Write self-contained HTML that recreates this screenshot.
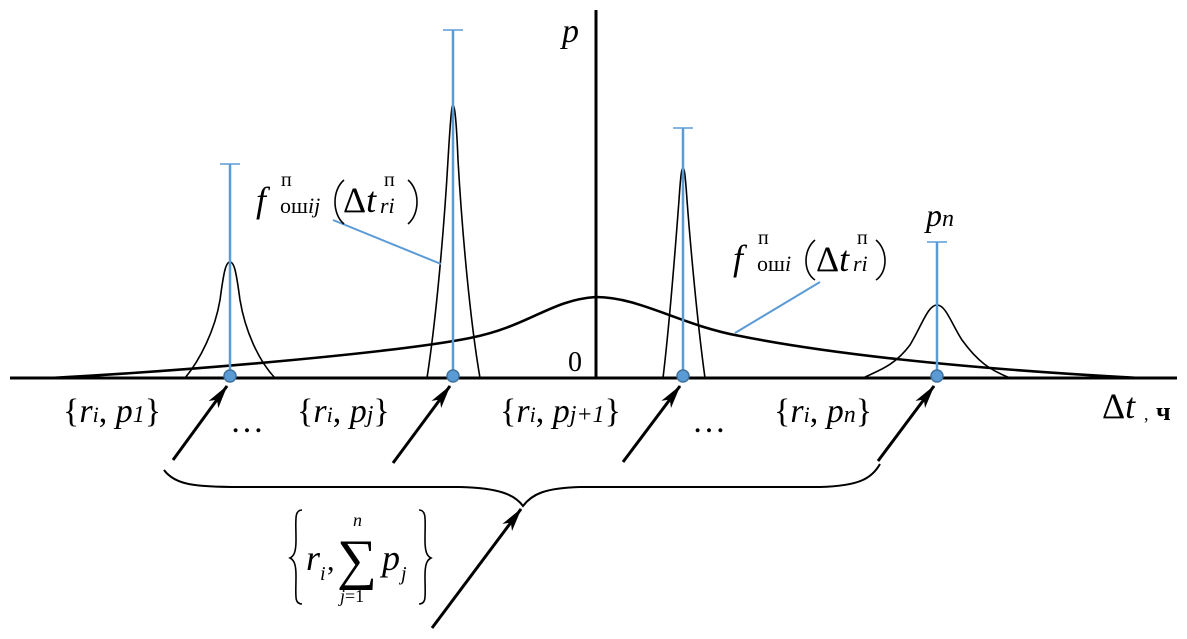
<!DOCTYPE html>
<html><head><meta charset="utf-8"><style>
html,body{margin:0;padding:0;background:#fff;}
svg{display:block;}
svg text{font-family:'Liberation Serif','DejaVu Serif','Noto Serif CJK SC',serif;}
</style></head><body>
<svg width="1187" height="639" viewBox="0 0 1187 639" xmlns="http://www.w3.org/2000/svg">
<defs>
<marker id="ah2" viewBox="0 0 24 14" refX="23" refY="7" markerWidth="24" markerHeight="14" orient="auto" markerUnits="userSpaceOnUse">
<path d="M0,1 L24,7 L0,13 L6,7 z" fill="#000"/>
</marker>
</defs>
<line x1="10" y1="378" x2="1177" y2="378" stroke="#000" stroke-width="3"/>
<line x1="596" y1="10" x2="596" y2="378" stroke="#000" stroke-width="3"/>
<path d="M50,378 C200,370 400,352 470,338 C530,326 550,300 596,297 C640,297 680,325 740,336 C820,352 950,368 1140,378" fill="none" stroke="#000" stroke-width="2.6"/>
<g fill="none" stroke="#000" stroke-width="1.6">
<path d="M185,378 C200,360 215,330 220,300 C224,270 226,262 230,262 C234,262 236,270 240,300 C245,330 258,360 275,378"/>
<path d="M427,378 C436,320 444,230 448,160 C451,110 452,105 453,105 C454,105 456,110 458,160 C462,230 470,320 480,378"/>
<path d="M663,378 C670,320 676,240 679,200 C681,170 682,168 683,168 C684,168 685,170 687,200 C690,240 697,320 705,378"/>
<path d="M865,377 C880,370 895,365 910,345 C922,325 928,305 937,305 C946,305 952,325 962,340 C978,362 990,370 1010,378"/>
</g>
<g stroke="#5b9bd5" stroke-width="2.5">
<line x1="230" y1="164" x2="230" y2="376"/><line x1="220" y1="164" x2="240" y2="164" stroke-width="1.5"/>
<line x1="453" y1="30" x2="453" y2="376"/><line x1="443" y1="30" x2="463" y2="30" stroke-width="1.5"/>
<line x1="683" y1="128" x2="683" y2="376"/><line x1="673" y1="128" x2="693" y2="128" stroke-width="1.5"/>
<line x1="937" y1="242" x2="937" y2="376"/><line x1="927" y1="242" x2="947" y2="242" stroke-width="1.5"/>
<line x1="333" y1="220" x2="441" y2="264" stroke-width="2"/>
<line x1="820" y1="282" x2="735" y2="333" stroke-width="2"/>
</g>
<g fill="#5b9bd5" stroke="#41719c" stroke-width="1.5">
<circle cx="230" cy="376" r="6"/><circle cx="453" cy="376" r="6"/><circle cx="683" cy="376" r="6"/><circle cx="937" cy="376" r="6"/>
</g>
<g stroke="#000" stroke-width="3">
<line x1="173" y1="460" x2="227" y2="386" marker-end="url(#ah2)"/>
<line x1="393" y1="463" x2="450" y2="386" marker-end="url(#ah2)"/>
<line x1="623" y1="462" x2="680" y2="386" marker-end="url(#ah2)"/>
<line x1="878" y1="461" x2="934" y2="386" marker-end="url(#ah2)"/>
<line x1="432" y1="628" x2="521" y2="509" marker-end="url(#ah2)"/>
</g>
<path d="M164,470 C175,485 195,487 240,487 L460,487 C500,488 515,495 523,506 C532,494 545,488 580,487 L820,487 C860,486 872,478 880,464" fill="none" stroke="#000" stroke-width="2"/>
<g fill="#000">
<text x="562" y="42" font-size="34" font-style="italic">p</text>
<text x="568" y="371" font-size="28">0</text>
<text x="926" y="226" font-size="32" font-style="italic">p<tspan font-size="24">n</tspan></text>
<g font-size="34">
<text x="63" y="422">{<tspan font-style="italic">r</tspan><tspan font-size="22" font-style="italic">i</tspan>, <tspan font-style="italic">p</tspan><tspan font-size="24" font-style="italic">1</tspan>}</text>
<text x="230" y="432">…</text>
<text x="297" y="422">{<tspan font-style="italic">r</tspan><tspan font-size="22" font-style="italic">i</tspan>, <tspan font-style="italic">p</tspan><tspan font-size="24" font-style="italic">j</tspan>}</text>
<text x="500" y="422">{<tspan font-style="italic">r</tspan><tspan font-size="22" font-style="italic">i</tspan>, <tspan font-style="italic">p</tspan><tspan font-size="24" font-style="italic">j+1</tspan>}</text>
<text x="692" y="432">…</text>
<text x="774" y="422">{<tspan font-style="italic">r</tspan><tspan font-size="22" font-style="italic">i</tspan>, <tspan font-style="italic">p</tspan><tspan font-size="24" font-style="italic">n</tspan>}</text>
</g>
<text x="1102" y="418" font-size="36">Δ<tspan font-style="italic">t</tspan></text>
<text x="1144" y="420" font-size="18">,</text>
<text x="1156" y="420" font-size="26" font-weight="bold">ч</text>
<text x="256" y="212" font-size="36" font-style="italic">f</text>
<text x="281" y="186" font-size="20">п</text>
<text x="280" y="213" font-size="22">ош<tspan font-style="italic">ij</tspan></text>
<text x="343" y="212" font-size="36">Δ<tspan font-style="italic">t</tspan></text>
<text x="384" y="186" font-size="20">п</text>
<text x="380" y="213" font-size="22" font-style="italic">ri</text>
<text x="733" y="270" font-size="36" font-style="italic">f</text>
<text x="758" y="244" font-size="20">п</text>
<text x="757" y="271" font-size="22">ош<tspan font-style="italic">i</tspan></text>
<text x="816" y="271" font-size="36">Δ<tspan font-style="italic">t</tspan></text>
<text x="857" y="244" font-size="20">п</text>
<text x="853" y="271" font-size="22" font-style="italic">ri</text>
<text x="306" y="570" font-size="36" font-style="italic">r</text>
<text x="320" y="580" font-size="20" font-style="italic">i</text>
<text x="327" y="570" font-size="30">,</text>
<text x="337" y="578" font-size="56">∑</text>
<text x="353" y="526" font-size="18" font-style="italic">n</text>
<text x="340" y="602" font-size="18"><tspan font-style="italic">j</tspan>=1</text>
<text x="382" y="570" font-size="36" font-style="italic">p</text>
<text x="401" y="580" font-size="20" font-style="italic">j</text>
</g>
<g fill="none" stroke="#000" stroke-width="1.6">
<path d="M344,180 C332,190 332,214 344,224"/>
<path d="M408,180 C420,190 420,214 408,224"/>
<path d="M815,240 C803,250 803,272 815,280"/>
<path d="M876,240 C888,250 888,272 876,280"/>
<path d="M302,510 C294,510 296,520 296,540 C296,552 294,556 290,558 C294,560 296,564 296,576 C296,596 294,604 302,604"/>
<path d="M419,510 C427,510 425,520 425,540 C425,552 427,556 431,558 C427,560 425,564 425,576 C425,596 427,604 419,604"/>
</g>
</svg>
</body></html>
